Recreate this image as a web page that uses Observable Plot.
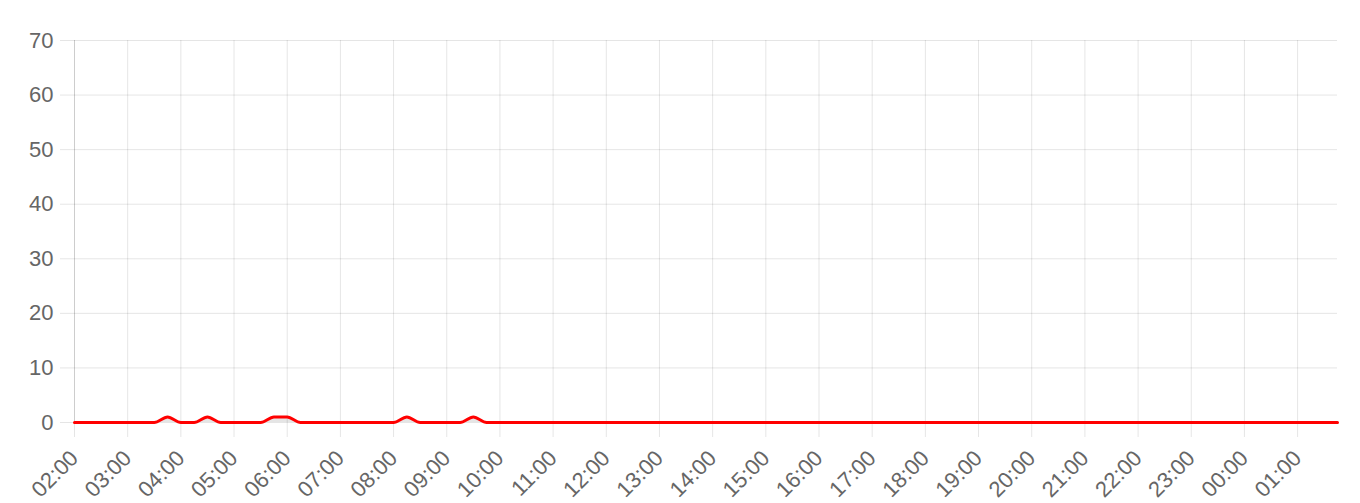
<!DOCTYPE html>
<html>
<head>
<meta charset="utf-8">
<script src="https://cdn.jsdelivr.net/npm/d3@7"></script>
<script src="https://cdn.jsdelivr.net/npm/@observablehq/plot@0.6"></script>
<style>
  html, body { margin: 0; padding: 0; background: #fff; }
</style>
</head>
<body>
<div id="chart"></div>
<script>
const hours = ["02","03","04","05","06","07","08","09","10","11","12","13","14","15","16","17","18","19","20","21","22","23","00","01"];
const quarters = ["00","15","30","45"];
const times = hours.flatMap(h => quarters.map(q => `${h}:${q}`));
const tickLabels = hours.map(h => `${h}:00`);
const yTicks = [0, 10, 20, 30, 40, 50, 60, 70];
const values = [
  0,0,0,0, 0,0,0,1, 0,0,1,0, 0,0,0,1,
  1,0,0,0, 0,0,0,0, 0,1,0,0, 0,0,1,0,
  0,0,0,0, 0,0,0,0, 0,0,0,0, 0,0,0,0,
  0,0,0,0, 0,0,0,0, 0,0,0,0, 0,0,0,0,
  0,0,0,0, 0,0,0,0, 0,0,0,0, 0,0,0,0,
  0,0,0,0, 0,0,0,0, 0,0,0,0, 0,0,0,0
];
const data = times.map((t, i) => ({i, t, v: values[i]}));
const tickIdx = tickLabels.map(l => times.indexOf(l));

const chart = Plot.plot({
  width: 1360,
  height: 503,
  marginLeft: 74,
  marginRight: 23,
  marginTop: 40,
  marginBottom: 81,
  style: {fontFamily: "'Liberation Sans', Arial, sans-serif", fontSize: "22px", color: "#666", background: "#fff"},
  x: {type: "linear", domain: [0, times.length - 1]},
  y: {domain: [0, 70]},
  marks: [
    Plot.gridY(yTicks, {stroke: "#000", strokeOpacity: 0.1}),
    Plot.gridX(tickIdx, {stroke: "#000", strokeOpacity: 0.1}),
    Plot.ruleX([0], {stroke: "#000", strokeOpacity: 0.1}),
    Plot.axisY(yTicks, {tickSize: 14, tickPadding: 7, stroke: "#000", strokeOpacity: 0.1, fill: "#666", fontSize: 22, label: null}),
    Plot.axisX(tickIdx, {tickSize: 15, tickPadding: 17, tickRotate: -45, tickFormat: i => times[i], stroke: "#000", strokeOpacity: 0.1, fill: "#666", fontSize: 22, label: null}),
    Plot.areaY(data, {x: "i", y: "v", fill: "#000", fillOpacity: 0.1, curve: "monotone-x"}),
    Plot.lineY(data, {x: "i", y: "v", stroke: "#ff0000", strokeWidth: 3, curve: "monotone-x"})
  ]
});
document.getElementById("chart").appendChild(chart);
</script>
</body>
</html>
